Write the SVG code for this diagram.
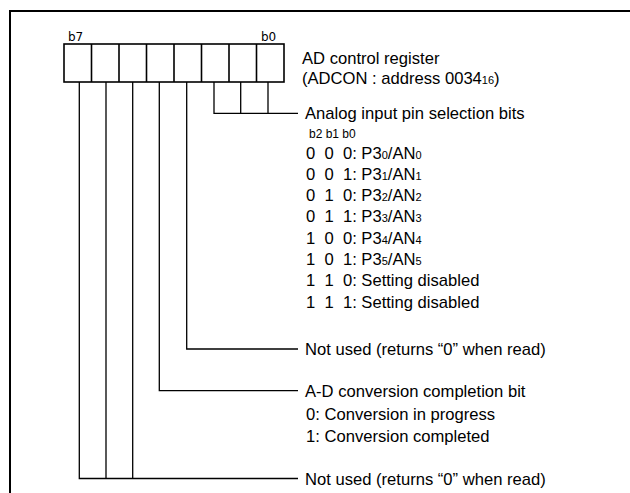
<svg xmlns="http://www.w3.org/2000/svg" width="630" height="493" viewBox="0 0 630 493">
<style>
.frame{fill:none;stroke:#000;stroke-width:2}
.reg{fill:#fff;stroke:#000;stroke-width:1.6}
.conn{fill:none;stroke:#000;stroke-width:1.3}
.t{font-family:"Liberation Sans",Arial,sans-serif;font-size:16.6px;fill:#000;white-space:pre}
.s{font-size:11px}
.hb{font-family:"Liberation Sans",Arial,sans-serif;font-size:12px;fill:#000;white-space:pre}
.bl{font-family:"DejaVu Sans",sans-serif;font-size:12px;fill:#000}
</style>
<rect width="630" height="493" fill="#fff"/>
<path class="frame" d="M10,493 V11 H630"/>
<g id="register">
<rect class="reg" x="64" y="44" width="220" height="38"/>
<path class="reg" d="M91.5,44V82M119,44V82M146.5,44V82M174,44V82M201.5,44V82M229,44V82M256.5,44V82"/>
<text class="bl" x="68" y="40.5">b7</text>
<text class="bl" x="261" y="40.5">b0</text>
<text class="t" x="302" y="64">AD control register</text>
<text class="t" x="302" y="84">(ADCON : address 0034<tspan class="s">16</tspan>)</text>
</g>
<g id="connectors">
<path class="conn" d="M214,82V113.3H298M240.7,82V113.3M268,82V113.3"/>
<path class="conn" d="M186.7,82V349H298"/>
<path class="conn" d="M159.3,82V390.7H298"/>
<path class="conn" d="M79.3,82V478.5H298M106,82V478.5M132.7,82V478.5"/>
</g>
<g id="analog-bits">
<text class="t" x="305" y="119">Analog input pin selection bits</text>
<text class="hb" x="309" y="137.5">b2 b1 b0</text>
<text class="t" x="306" y="158.5">0  0  0: P3<tspan class="s">0</tspan>/AN<tspan class="s">0</tspan></text>
<text class="t" x="306" y="179.8">0  0  1: P3<tspan class="s">1</tspan>/AN<tspan class="s">1</tspan></text>
<text class="t" x="306" y="201.1">0  1  0: P3<tspan class="s">2</tspan>/AN<tspan class="s">2</tspan></text>
<text class="t" x="306" y="222.4">0  1  1: P3<tspan class="s">3</tspan>/AN<tspan class="s">3</tspan></text>
<text class="t" x="306" y="243.7">1  0  0: P3<tspan class="s">4</tspan>/AN<tspan class="s">4</tspan></text>
<text class="t" x="306" y="265">1  0  1: P3<tspan class="s">5</tspan>/AN<tspan class="s">5</tspan></text>
<text class="t" x="306" y="286.3">1  1  0: Setting disabled</text>
<text class="t" x="306" y="307.6">1  1  1: Setting disabled</text>
</g>
<g id="bit3">
<text class="t" x="305" y="355">Not used (returns “0” when read)</text>
</g>
<g id="bit4">
<text class="t" x="305" y="397">A-D conversion completion bit</text>
<text class="t" x="306" y="420">0: Conversion in progress</text>
<text class="t" x="306" y="441.5">1: Conversion completed</text>
</g>
<g id="bits5-7">
<text class="t" x="305" y="485">Not used (returns “0” when read)</text>
</g>
</svg>
